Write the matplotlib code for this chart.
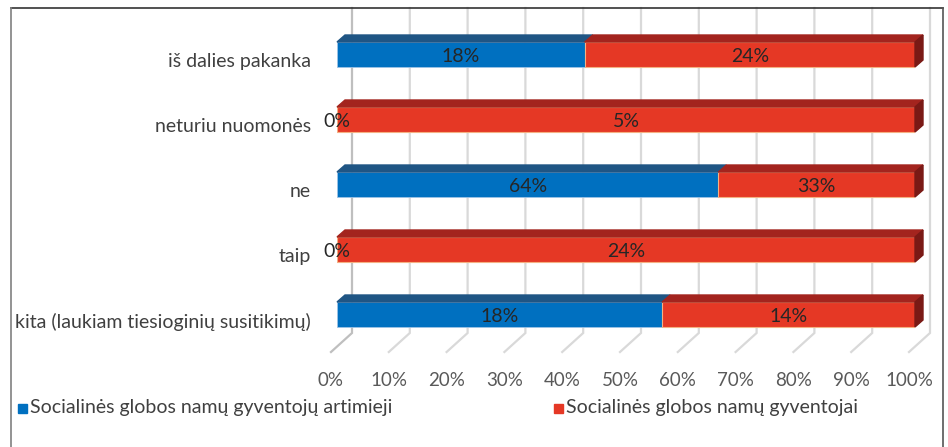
import matplotlib
matplotlib.use("Agg")
import matplotlib.pyplot as plt
from matplotlib.patches import Polygon, Rectangle
from matplotlib.lines import Line2D

plt.rcParams['font.family'] = ['Lato', 'DejaVu Sans']

# data
categories = ['iš dalies pakanka', 'neturiu nuomonės', 'ne', 'taip',
              'kita (laukiam tiesioginių susitikimų)']
artimieji = [18, 0, 64, 0, 18]
gyventojai = [24, 5, 33, 24, 14]
ticks = [0, 10, 20, 30, 40, 50, 60, 70, 80, 90, 100]
tick_labels = ['%d%%' % t for t in ticks]
series_names = ['Socialinės globos namų gyventojų artimieji',
                'Socialinės globos namų gyventojai']

blue, blue_top, blue_edge = '#0070C0', '#1F5584', '#9DC3E6'
red, red_top, red_side, red_edge = '#E53825', '#A3241E', '#7A1915', '#F4B183'
FS = 14

W, H = 948, 447
fig = plt.figure(figsize=(W / 100, H / 100), dpi=100)

# axes geometry in pixels: 0..100 % -> 337..915 px, row centres every 65 px
x0, x1 = 337, 915
top_px, bot_px = 8, 360
yc0, pitch = 54.5, 65
ax = fig.add_axes([x0 / W, 1 - bot_px / H, (x1 - x0) / W, (bot_px - top_px) / H])
ax.set_xlim(0, 100)
ax.set_ylim((bot_px - yc0) / pitch, (top_px - yc0) / pitch)
ax.axis('off')

px = 100 / (x1 - x0)   # data units per pixel (x)
py = 1 / pitch         # data units per pixel (y)

# back wall + floor grid
y_top = (top_px - yc0) / pitch
y_floor_back = (333 - yc0) / pitch
y_floor_front = (352 - yc0) / pitch
for t in ticks:
    xb = t + 15 * px
    xf = t - 6 * px
    c = '#BFBFBF' if t == 0 else '#D9D9D9'
    ax.plot([xb, xb, xf], [y_top, y_floor_back, y_floor_front], color=c,
            lw=1.6, zorder=1, clip_on=False, solid_joinstyle='miter')

# bars with a simple 3D look
bar_h = 25 * py
dx, dy = 8 * px, -7 * py
for i in range(len(categories)):
    tot = artimieji[i] + gyventojai[i]
    a = artimieji[i] / tot * 100
    b = 100 - a
    ax.barh(i, a, left=0, height=bar_h, color=blue, edgecolor=blue_edge,
            lw=0.6, zorder=3)
    ax.barh(i, b, left=a, height=bar_h, color=red, edgecolor=red_edge,
            lw=0.8, zorder=3)
    yt = i - bar_h / 2
    for l, r, col in [(0, a, blue_top), (a, 100, red_top)]:
        if r - l <= 0:
            continue
        ax.add_patch(Polygon([(l, yt), (r, yt), (r + dx, yt + dy), (l + dx, yt + dy)],
                             closed=True, color=col, zorder=4, clip_on=False))
    ax.add_patch(Polygon([(100, yt), (100 + dx, yt + dy), (100 + dx, yt + bar_h + dy),
                          (100, yt + bar_h)], closed=True, color=red_side,
                         zorder=4, clip_on=False))
    ax.text(a / 2, i + 2 * py, '%d%%' % artimieji[i], ha='center', va='center',
            fontsize=FS, color='#262626', zorder=6, clip_on=False)
    ax.text(a + b / 2, i + 2 * py, '%d%%' % gyventojai[i], ha='center', va='center',
            fontsize=FS, color='#262626', zorder=6, clip_on=False)
    ax.text((311 - x0) * px, i + 7 * py, categories[i], ha='right', va='center',
            fontsize=FS, color='#404040', clip_on=False)

y_ticklab = (381 - yc0) / pitch
for t, lab in zip(ticks, tick_labels):
    ax.text(t - 6 * px, y_ticklab, lab, ha='center', va='center', fontsize=FS - 0.5,
            color='#595959', clip_on=False)

# legend
for (sx, tx), col, name in zip([(18, 30), (554, 566)], [blue, red], series_names):
    fig.patches.append(Rectangle((sx / W, 1 - 413 / H), 9 / W, 9 / H,
                                 transform=fig.transFigure, color=col))
    fig.text(tx / W, 1 - 408 / H, name, ha='left', va='center', fontsize=FS,
             color='#404040')

# frame
fig.add_artist(Line2D([11 / W, 943 / W], [1 - 8 / H, 1 - 8 / H], color='#333333', lw=1.2))
fig.add_artist(Line2D([11 / W, 11 / W], [0, 1 - 8 / H], color='#808080', lw=1.2))
fig.add_artist(Line2D([943 / W, 943 / W], [0, 1 - 8 / H], color='#555555', lw=1.2))

fig.savefig('out.png', dpi=100)
